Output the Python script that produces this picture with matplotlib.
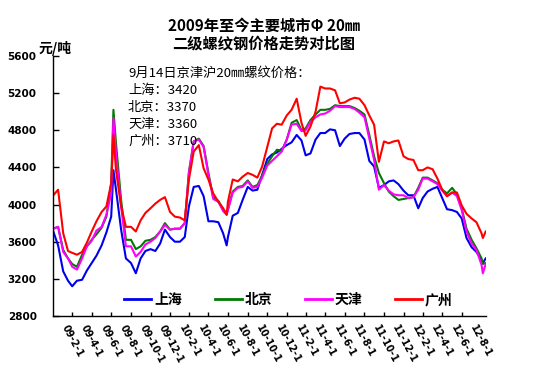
import matplotlib
matplotlib.use("Agg")
import matplotlib.pyplot as plt
import matplotlib.dates as mdates
from matplotlib.transforms import ScaledTranslation
import pandas as pd

CJK = ["Noto Sans CJK SC", "DejaVu Sans"]

# ── Data (元/吨) ─────────────────────────────────────────────────────────
dates = [
    "2009-01-01", "2009-01-16", "2009-02-01", "2009-02-16", "2009-03-01", "2009-03-16",
    "2009-04-01", "2009-04-16", "2009-05-01", "2009-05-16", "2009-06-01", "2009-06-16",
    "2009-07-01", "2009-07-08", "2009-07-16", "2009-08-01", "2009-08-16", "2009-09-01",
    "2009-09-16", "2009-10-01", "2009-10-16", "2009-11-01", "2009-11-16", "2009-12-01",
    "2009-12-16",
    "2010-01-01", "2010-01-16", "2010-02-01", "2010-02-16", "2010-03-01", "2010-03-16",
    "2010-04-01", "2010-04-16", "2010-05-01", "2010-05-16", "2010-06-01", "2010-06-16",
    "2010-06-27", "2010-07-01", "2010-07-16", "2010-08-01", "2010-08-16", "2010-09-01",
    "2010-09-16", "2010-10-01", "2010-10-16", "2010-11-01", "2010-11-16", "2010-12-01",
    "2010-12-16",
    "2011-01-01", "2011-01-16", "2011-02-01", "2011-02-16", "2011-03-01", "2011-03-16",
    "2011-04-01", "2011-04-16", "2011-05-01", "2011-05-16", "2011-06-01", "2011-06-16",
    "2011-07-01", "2011-07-16", "2011-08-01", "2011-08-16", "2011-09-01", "2011-09-16",
    "2011-10-01", "2011-10-16", "2011-11-01", "2011-11-16", "2011-12-01", "2011-12-16",
    "2012-01-01", "2012-01-16", "2012-02-01", "2012-02-16", "2012-03-01", "2012-03-16",
    "2012-04-01", "2012-04-16", "2012-05-01", "2012-05-16", "2012-06-01", "2012-06-16",
    "2012-07-01", "2012-07-16", "2012-08-01", "2012-08-16", "2012-09-01", "2012-09-05",
    "2012-09-14",
]

shanghai = [
    3710, 3560, 3280, 3180, 3120, 3180, 3190, 3290, 3370, 3450, 3560, 3700, 3870, 4370,
    4160, 3730, 3420, 3370, 3260, 3420, 3500, 3520, 3500, 3580, 3730,
    3650, 3600, 3600, 3650, 3980, 4190, 4200, 4090, 3820, 3820, 3810, 3690, 3560, 3650,
    3880, 3910, 4050, 4190, 4150, 4160, 4320, 4490, 4540, 4560, 4600,
    4640, 4670, 4750, 4690, 4530, 4550, 4700, 4770, 4770, 4810, 4800, 4630, 4710, 4760,
    4770, 4770, 4700, 4470, 4410, 4180, 4210, 4250, 4260, 4220,
    4150, 4100, 4100, 3960, 4070, 4140, 4170, 4190, 4070, 3950, 3940, 3920, 3850, 3640,
    3540, 3490, 3400, 3370, 3420,
]
beijing = [
    3740, 3760, 3510, 3420, 3360, 3330, 3460, 3550, 3620, 3680, 3750, 3870, 4230, 5020,
    4660, 4050, 3620, 3620, 3520, 3550, 3610, 3620, 3650, 3710, 3800,
    3730, 3740, 3740, 3800, 4350, 4680, 4710, 4630, 4340, 4080, 4040, 3950, 3900, 3950,
    4140, 4190, 4200, 4260, 4190, 4210, 4310, 4440, 4520, 4590, 4580,
    4700, 4880, 4910, 4800, 4820, 4910, 4970, 5020, 5020, 5030, 5070, 5060, 5060, 5060,
    5040, 5010, 4970, 4750, 4520, 4340, 4230, 4140, 4090, 4050,
    4060, 4070, 4080, 4180, 4290, 4290, 4260, 4230, 4160, 4120, 4180, 4110, 3960, 3740,
    3620, 3530, 3420, 3360, 3370,
]
tianjin = [
    3740, 3760, 3490, 3420, 3330, 3300, 3420, 3550, 3610, 3720, 3760, 3890, 4120, 4930,
    4550, 3980, 3550, 3550, 3440, 3490, 3570, 3600, 3640, 3710, 3780,
    3730, 3740, 3740, 3800, 4340, 4680, 4700, 4620, 4320, 4060, 4030, 3930, 3890, 3940,
    4130, 4180, 4190, 4250, 4180, 4190, 4290, 4420, 4470, 4520, 4570,
    4700, 4860, 4870, 4790, 4800, 4890, 4940, 4970, 4980, 5010, 5060, 5050, 5050, 5050,
    5030, 4990, 4940, 4710, 4480, 4160, 4210, 4150, 4110, 4100,
    4100, 4070, 4080, 4160, 4280, 4280, 4250, 4220, 4150, 4090, 4130, 4090, 3940, 3710,
    3580, 3510, 3350, 3260, 3360,
]
guangzhou = [
    4100, 4160, 3690, 3500, 3480, 3460, 3490, 3590, 3710, 3820, 3920, 3980, 4230, 4750,
    4370, 3980, 3760, 3760, 3710, 3830, 3910, 3960, 4010, 4050, 4080,
    3920, 3870, 3860, 3830, 4270, 4570, 4640, 4390, 4270, 4120, 4030, 3960, 3890, 4030,
    4270, 4250, 4300, 4340, 4320, 4290, 4410, 4620, 4820, 4870, 4860,
    4960, 5020, 5140, 4880, 4740, 4840, 5000, 5270, 5250, 5250, 5230, 5090, 5100, 5130,
    5150, 5140, 5070, 4960, 4860, 4460, 4680, 4660, 4680, 4690,
    4520, 4490, 4480, 4370, 4370, 4400, 4380, 4280, 4160, 4090, 4130, 4130, 3990, 3900,
    3850, 3810, 3690, 3640, 3710,
]

cities = ["上海", "北京", "天津", "广州"]
colors = ["#0000EE", "#007A00", "#FF00FF", "#FF0000"]

y_ticks = [2800, 3200, 3600, 4000, 4400, 4800, 5200, 5600]
label_dates = pd.date_range("2009-02-01", "2012-08-01", freq="2MS")
mark_dates = pd.date_range("2009-03-01", "2012-07-01", freq="2MS")


def main():
    fig = plt.figure(figsize=(5.49, 3.92), dpi=100)
    fig.patch.set_facecolor("white")
    ax = fig.add_axes([0.0971, 0.1939, 0.7882, 0.6633])

    x = pd.to_datetime(dates)
    series = [shanghai, beijing, tianjin, guangzhou]
    for name, vals, c in zip(cities, series, colors):
        ax.plot(x, vals, color=c, lw=1.5, label=name)

    ax.set_xlim(pd.Timestamp("2009-01-01"), pd.Timestamp("2012-09-15"))
    ax.set_ylim(2800, 5600)
    ax.set_yticks(y_ticks)
    ax.set_yticklabels([str(v) for v in y_ticks], fontsize=7.5,
                       fontweight="bold", family="DejaVu Sans")
    ax.tick_params(axis="y", direction="in", length=4, width=1, pad=12)

    ax.set_xticks(mdates.date2num(label_dates))
    ax.set_xticklabels([f"{d.year % 100:02d}-{d.month}-{d.day}" for d in label_dates],
                       rotation=-62, ha="left", va="top", fontsize=7,
                       fontweight="bold", family="DejaVu Sans")
    ax.set_xticks(mdates.date2num(mark_dates), minor=True)
    ax.tick_params(axis="x", which="major", length=0, pad=5)
    ax.tick_params(axis="x", which="minor", direction="in", length=3, width=1)
    off = ScaledTranslation(-0.03, 0, fig.dpi_scale_trans)
    for lab in ax.get_xticklabels():
        lab.set_transform(lab.get_transform() + off)

    for s in ("top", "right"):
        ax.spines[s].set_visible(False)
    for s in ("left", "bottom"):
        ax.spines[s].set_linewidth(1.0)

    leg = ax.legend(ncol=4, loc="center", bbox_to_anchor=(0.5255, 0.2347),
                    bbox_transform=fig.transFigure, frameon=False,
                    handlelength=1.95, handletextpad=0.2, columnspacing=2.35,
                    prop={"family": CJK, "weight": "bold", "size": 10})
    for line in leg.get_lines():
        line.set_linewidth(2.0)

    # ── Titles / annotations ──
    fig.text(264 / 549, 1 - 26 / 392, "2009年至今主要城市Φ 20㎜", ha="center",
             va="center", fontsize=11, fontweight="bold", family=CJK)
    fig.text(264 / 549, 1 - 43 / 392, "二级螺纹钢价格走势对比图", ha="center",
             va="center", fontsize=11, fontweight="bold", family=CJK)
    fig.text(55 / 549, 1 - 49 / 392, "元/吨", ha="center", va="center",
             fontsize=10, fontweight="bold", family=CJK)

    note = ["9月14日京津沪20㎜螺纹价格："]
    note += [f"{n}：{v[-1]}" for n, v in zip(cities, series)]
    for i, t in enumerate(note):
        fig.text(128 / 549, 1 - (73 + 17.1 * i) / 392, t, ha="left", va="center",
                 fontsize=9.5, family=CJK)

    fig.savefig("out.png", dpi=100, facecolor="white")
    plt.close(fig)


if __name__ == "__main__":
    main()
